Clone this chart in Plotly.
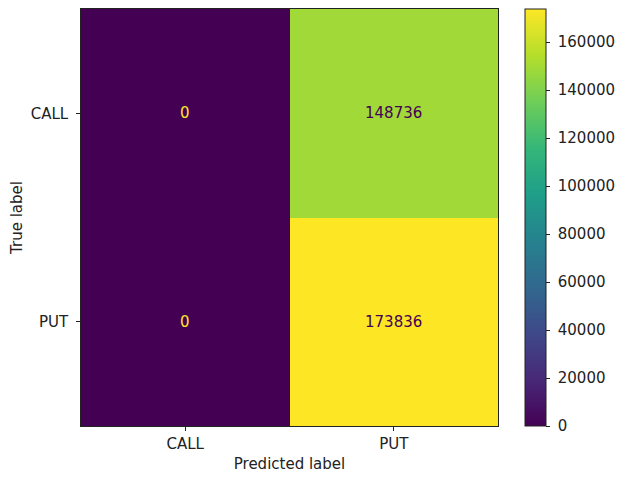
import plotly.graph_objects as go

categories = ["CALL", "PUT"]
true_labels = ["CALL", "PUT"]
counts = [[0, 148736], [0, 173836]]

zmax = max(max(r) for r in counts)
zmin = 0

FONT = "DejaVu Sans"
FS = 15
INK = "#222222"

fig = go.Figure()
fig.add_trace(go.Heatmap(
    z=counts, x=categories, y=true_labels,
    colorscale="Viridis", zmin=zmin, zmax=zmax,
    xgap=0, ygap=0, hoverinfo="skip",
    colorbar=dict(
        x=1.0647, xanchor="left", xref="paper",
        y=0.5, yanchor="middle", len=1.0, lenmode="fraction",
        thickness=21, thicknessmode="pixels",
        outlinewidth=1, outlinecolor=INK,
        ticks="outside", ticklen=4, tickwidth=1, tickcolor=INK,
        tick0=0, dtick=20000, tickformat="d", tickprefix="\u00a0",
        tickfont=dict(family=FONT, size=FS, color=INK),
        xpad=0, ypad=0,
    ),
))

mid = (zmax + zmin) / 2
ann = []
for i, row in enumerate(counts):
    for j, v in enumerate(row):
        color = "#440154" if v > mid else "#fde725"
        ann.append(dict(x=categories[j], y=true_labels[i], text=str(v), showarrow=False,
                        font=dict(family=FONT, size=FS, color=color)))

axis_common = dict(
    showline=True, linecolor=INK, linewidth=1, mirror=True,
    ticks="outside", ticklen=4, tickwidth=1, tickcolor=INK,
    tickfont=dict(family=FONT, size=FS, color=INK),
    showgrid=False, zeroline=False,
)

fig.update_layout(
    width=626, height=484,
    margin=dict(l=73, r=136, t=1, b=66, autoexpand=False),
    paper_bgcolor="white", plot_bgcolor="white",
    annotations=ann,
    xaxis=dict(title=dict(text="Predicted label", font=dict(family=FONT, size=FS, color=INK), standoff=6),
               automargin=False, **axis_common),
    yaxis=dict(title=dict(text="True label", font=dict(family=FONT, size=FS, color=INK), standoff=10),
               automargin=False, autorange="reversed", ticksuffix="\u00a0", **axis_common),
)

fig.write_html("out.html")
